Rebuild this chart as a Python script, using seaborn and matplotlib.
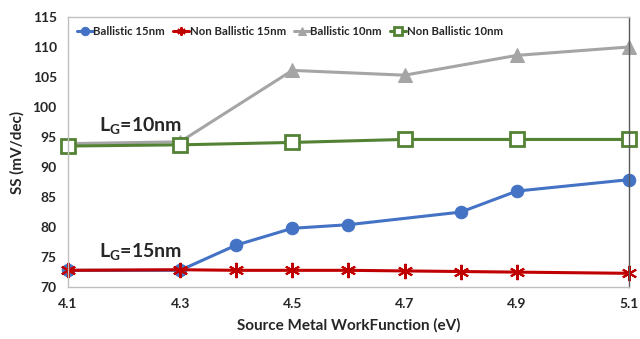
import matplotlib
matplotlib.use("Agg")
import matplotlib.pyplot as plt
import seaborn as sns
import pandas as pd

# data
wf_b15 = [4.1, 4.3, 4.4, 4.5, 4.6, 4.8, 4.9, 5.1]
ss_b15 = [72.8, 72.8, 77.0, 79.8, 80.4, 82.5, 86.0, 87.9]

wf_nb15 = [4.1, 4.3, 4.4, 4.5, 4.6, 4.7, 4.8, 4.9, 5.1]
ss_nb15 = [72.8, 72.9, 72.8, 72.8, 72.8, 72.7, 72.6, 72.5, 72.3]

wf_10 = [4.1, 4.3, 4.5, 4.7, 4.9, 5.1]
ss_b10 = [93.9, 94.2, 106.1, 105.3, 108.6, 110.0]
ss_nb10 = [93.5, 93.7, 94.1, 94.6, 94.6, 94.6]

xticks = [4.1, 4.3, 4.5, 4.7, 4.9, 5.1]

sns.set_style("white")
plt.rcParams['font.family'] = ['Lato', 'DejaVu Sans']
plt.rcParams['mathtext.fontset'] = 'custom'
plt.rcParams['mathtext.rm'] = 'Lato:bold'
plt.rcParams['mathtext.it'] = 'Lato:bold'
plt.rcParams['mathtext.bf'] = 'Lato:bold'

fig = plt.figure(figsize=(6.4, 3.39), dpi=100)
ax = fig.add_axes([0.106, 0.153, 0.877, 0.797])

series = [
    ("Ballistic 15nm", wf_b15, ss_b15, "#4472C4",
     dict(marker="o", markersize=9)),
    ("Non Ballistic 15nm", wf_nb15, ss_nb15, "#C00000",
     dict(marker=(6, 2, 0), markersize=11, markeredgewidth=1.5)),
    ("Ballistic 10nm", wf_10, ss_b10, "#A5A5A5",
     dict(marker="^", markersize=10)),
    ("Non Ballistic 10nm", wf_10, ss_nb10, "#548235",
     dict(marker="s", markersize=10, markerfacecolor="white", markeredgewidth=2)),
]

for name, xs, ys, col, mk in series:
    df = pd.DataFrame({"wf": xs, "ss": ys})
    sns.lineplot(data=df, x="wf", y="ss", ax=ax, color=col, linewidth=2.2,
                 linestyle="-", markeredgecolor=col, clip_on=False,
                 label=name, **mk)

ax.set_xlim(4.1, 5.1)
ax.set_ylim(70, 115)
ax.set_xticks(xticks)
ax.set_xticklabels([f"{v:.1f}" for v in xticks])
ax.set_yticks(range(70, 116, 5))
ax.tick_params(axis="both", length=0, labelsize=10, pad=8)
for lab in ax.get_xticklabels() + ax.get_yticklabels():
    lab.set_fontweight("bold")

ax.set_xlabel("Source Metal WorkFunction (eV)", fontsize=11, fontweight="bold", labelpad=6)
ax.set_ylabel("SS (mV/dec)", fontsize=11, fontweight="bold", labelpad=6)

for side in ["left", "bottom", "top"]:
    ax.spines[side].set_color("#BFBFBF")
    ax.spines[side].set_linewidth(1)
ax.spines["right"].set_color("#595959")
ax.spines["right"].set_linewidth(1)

ax.text(4.155, 96.0, r"L$_{\rm G}$=10nm", fontsize=14, fontweight="bold")
ax.text(4.155, 75.0, r"L$_{\rm G}$=15nm", fontsize=14, fontweight="bold")

leg = ax.legend(loc="upper left", ncol=4, frameon=False, fontsize=8.2,
                handlelength=1.4, handletextpad=0.05, columnspacing=0.7,
                bbox_to_anchor=(0.0, 1.0), borderaxespad=0.5, borderpad=0.3)
for t in leg.get_texts():
    t.set_fontweight("bold")
for h in leg.legend_handles:
    h.set_markersize(6)

fig.savefig("out.png", dpi=100)
